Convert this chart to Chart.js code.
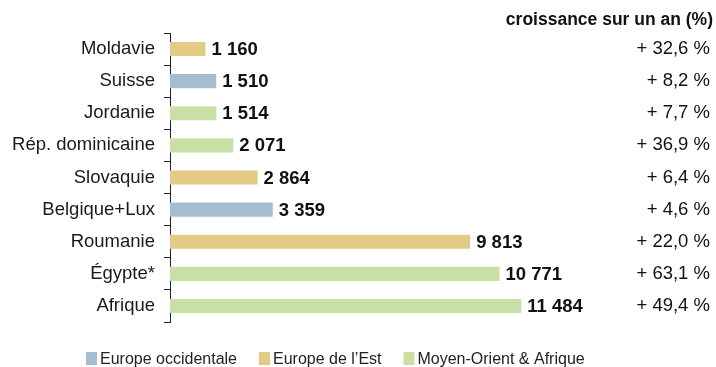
<!DOCTYPE html>
<html>
<head>
<meta charset="utf-8">
<script src="https://cdn.jsdelivr.net/npm/chart.js@4"></script>
<style>
  html, body { margin: 0; padding: 0; background: #fff; }
  #wrap { width: 716px; height: 367px; }
</style>
</head>
<body>
<div id="wrap"><canvas id="growth-chart" width="716" height="367"></canvas></div>
<script>
const countries = ["Moldavie", "Suisse", "Jordanie", "Rép. dominicaine", "Slovaquie", "Belgique+Lux", "Roumanie", "Égypte*", "Afrique"];
const arrivals = [1160, 1510, 1514, 2071, 2864, 3359, 9813, 10771, 11484];
const growth = ["+ 32,6 %", "+ 8,2 %", "+ 7,7 %", "+ 36,9 %", "+ 6,4 %", "+ 4,6 %", "+ 22,0 %", "+ 63,1 %", "+ 49,4 %"];
const regionOf = [1, 0, 2, 2, 1, 0, 1, 2, 2];
const regions = ["Europe occidentale", "Europe de l\u2019Est", "Moyen-Orient & Afrique"];
const regionColors = ['#a6bdd1', '#e3cb86', '#c9e0a4'];

const FONT = '"Liberation Sans", Arial, sans-serif';

// 1 160, 11 484 ...
const frNumber = (v) => String(v).replace(/\B(?=(\d{3})+(?!\d))/g, ' ');

// value next to each bar, growth column on the right, header and legend
const annotations = {
    id: 'annotations',
    afterDatasetsDraw(chart) {
        const ctx = chart.ctx;
        const bars = chart.getDatasetMeta(0).data;
        ctx.save();
        ctx.textBaseline = 'middle';
        bars.forEach((bar, i) => {
            ctx.fillStyle = '#111';
            ctx.font = 'bold 18.5px ' + FONT;
            ctx.textAlign = 'left';
            ctx.fillText(frNumber(arrivals[i]), bar.x + 6, bar.y + 1);
            ctx.font = '18.5px ' + FONT;
            ctx.textAlign = 'right';
            ctx.fillText(growth[i], 710, bar.y);
        });

        ctx.font = 'bold 17.5px ' + FONT;
        ctx.textAlign = 'right';
        ctx.fillText('croissance sur un an (%)', 713, 20);

        // legend
        ctx.font = '16px ' + FONT;
        ctx.textAlign = 'left';
        ctx.textBaseline = 'alphabetic';
        let x = 86;
        regions.forEach((name, i) => {
            ctx.fillStyle = regionColors[i];
            ctx.fillRect(x, 352, 11, 13);
            ctx.fillStyle = '#222';
            ctx.fillText(name, x + 14, 364);
            x += 14 + ctx.measureText(name).width + 22;
        });
        ctx.restore();
    }
};

const growthChart = new Chart(document.getElementById('growth-chart'), {
    type: 'bar',
    data: {
        labels: countries,
        datasets: [{
            data: arrivals,
            backgroundColor: regionOf.map(r => regionColors[r]),
            borderWidth: 0,
            barPercentage: 0.44,
            categoryPercentage: 1
        }]
    },
    options: {
        indexAxis: 'y',
        responsive: false,
        animation: false,
        layout: {
            padding: { top: 33, bottom: 45, left: 0, right: 26 }
        },
        scales: {
            x: {
                display: false,
                min: 0,
                max: 17000
            },
            y: {
                afterFit: (scale) => { scale.width = 170; },
                border: { display: true, color: '#222', width: 1 },
                grid: {
                    drawOnChartArea: false,
                    tickLength: 6,
                    color: '#222',
                    lineWidth: 1
                },
                ticks: {
                    padding: 9,
                    color: '#1a1a1a',
                    font: { family: FONT, size: 18.5 }
                }
            }
        },
        plugins: {
            legend: { display: false },
            tooltip: { enabled: false }
        }
    },
    plugins: [annotations]
});
</script>
</body>
</html>
